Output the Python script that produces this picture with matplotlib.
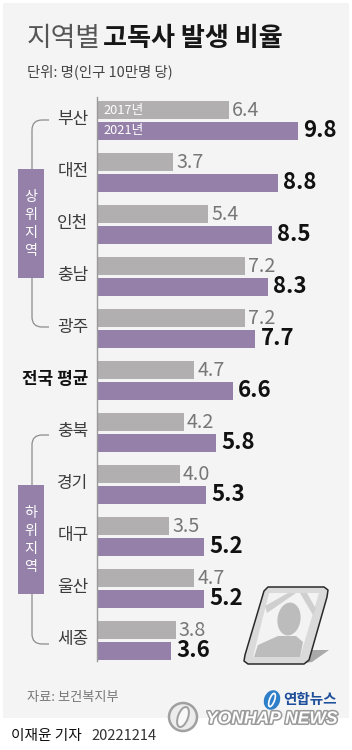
"""
Regional lonely-death rates, 2017 vs 2021 (paired horizontal bars)
"""

import matplotlib
matplotlib.use("Agg")
import matplotlib.pyplot as plt
import matplotlib.patheffects as pe
from matplotlib.patches import Circle, Ellipse, PathPatch, Polygon, Rectangle
from matplotlib.path import Path

plt.rcParams["font.family"] = ["Noto Sans CJK KR", "DejaVu Sans"]

regions = ["부산", "대전", "인천", "충남", "광주", "전국 평균", "충북", "경기", "대구", "울산", "세종"]
rate_2017 = [6.4, 3.7, 5.4, 7.2, 7.2, 4.7, 4.2, 4.0, 3.5, 4.7, 3.8]
rate_2021 = [9.8, 8.8, 8.5, 8.3, 7.7, 6.6, 5.8, 5.3, 5.2, 5.2, 3.6]
series_names = ["2017년", "2021년"]

GRAY = "#b1afaf"
PURPLE = "#9480a8"
BG = "#f4f4f5"
TEXT = "#3c3c3c"

W, H = 352, 750
fig = plt.figure(figsize=(W / 100, H / 100), dpi=100, facecolor="white")

# pixel-space layer for the page furniture
bg = fig.add_axes([0, 0, 1, 1])
bg.set_xlim(0, W)
bg.set_ylim(H, 0)
bg.axis("off")
bg.add_patch(Rectangle((3, 3), 346, 715, fc=BG, ec="none"))

bg.text(27, 39, "지역별", fontsize=19.3, color="#555555", va="center", ha="left", fontweight="light")
bg.text(103, 39, "고독사 발생 비율", fontsize=18.8, color="#161616", va="center", ha="left", fontweight="bold")
bg.text(27, 72, "단위: 명(인구 10만명 당)", fontsize=10.4, color="#444444", va="center", ha="left")

# bars: one row every 52 px, first row centred on y=120.5
ax = fig.add_axes([97 / W, 1 - 668.6 / H, 240 / W, 572 / H])
ax.patch.set_alpha(0)
ax.set_xlim(0, 240 / 20.45)
ax.set_ylim(len(regions) - 1 + 0.54, -0.46)
for s in ["top", "right", "bottom"]:
    ax.spines[s].set_visible(False)
ax.spines["left"].set_color("#9a9a9a")
ax.spines["left"].set_linewidth(1.0)
ax.spines["left"].set_bounds(10.4, -0.46)
ax.set_xticks([])
ax.set_yticks([])

h = 0.35
off = 0.2
for i, name in enumerate(regions):
    ax.barh(i - off, rate_2017[i], height=h, color=GRAY, left=0.04)
    ax.barh(i + off, rate_2021[i], height=h, color=PURPLE, left=0.04)
    ax.text(rate_2017[i] + 0.2, i - off, f"{rate_2017[i]:.1f}", fontsize=14.2, color="#777777",
            va="center", ha="left", fontweight="medium")
    ax.text(rate_2021[i] + 0.3, i + off, f"{rate_2021[i]:.1f}", fontsize=16, color="#111111",
            va="center", ha="left", fontweight="bold")
    bold = name == "전국 평균"
    ax.text(-0.42, i - 0.03, name, fontsize=12.2, color="#111111" if bold else TEXT,
            va="center", ha="right", fontweight="bold" if bold else "normal")

ax.text(0.3, -off, series_names[0], fontsize=9.2, color="white", va="center", ha="left", fontweight="medium")
ax.text(0.3, off, series_names[1], fontsize=9.2, color="white", va="center", ha="left", fontweight="medium")


def bracket(top, bottom, box_top, box_bottom, label):
    # rounded connector line with a purple tag sitting on it
    verts = [(49, top), (42, top), (32, top), (32, top + 10), (32, bottom - 10), (32, bottom), (42, bottom), (49, bottom)]
    codes = [Path.MOVETO, Path.LINETO, Path.CURVE3, Path.CURVE3, Path.LINETO, Path.CURVE3, Path.CURVE3, Path.LINETO]
    bg.add_patch(PathPatch(Path(verts, codes), fc="none", ec="#8c8c8c", lw=0.9))
    bg.add_patch(Rectangle((18, box_top), 26, box_bottom - box_top, fc=PURPLE, ec="none"))
    mid = (box_top + box_bottom) / 2
    for k, ch in enumerate(label):
        bg.text(31, mid + (k - 1.5) * 18, ch, fontsize=10.2, color="white", ha="center", va="center")


bracket(120, 327, 169, 278, "상위지역")
bracket(435, 644, 485, 594, "하위지역")

# memorial photo frame
bg.add_patch(Polygon([(305, 650), (329, 650), (312, 662), (298, 664)], fc="#a9a9a9", ec="none"))
frame = [(268, 587), (324, 587), (328, 590), (327, 597), (309, 660), (304, 664),
         (248, 664), (244, 661), (245, 655), (264, 591)]
bg.add_patch(Polygon(frame, closed=True, fc="#dadada", ec="#2a2a2a", lw=1.1, joinstyle="round"))
inner = [(269, 593), (319, 593), (300, 657), (253, 657)]
bg.add_patch(Polygon(inner, closed=True, fc="#f3f3f3", ec="none"))
bg.add_patch(Polygon([(288, 593), (296, 593), (267, 613), (265, 606)], fc="#cfcfcf", ec="none"))
bg.add_patch(Polygon([(300, 593), (307, 593), (316, 609), (313, 615)], fc="#cfcfcf", ec="none"))
bg.add_patch(Ellipse((289, 619), 23, 33, angle=8, fc="#bcbcbc", ec="none"))
bg.add_patch(Polygon([(254, 657), (258, 645), (278, 636), (296, 636), (303, 642), (300, 657)],
                     fc="#bcbcbc", ec="none"))

bg.text(27, 698, "자료: 보건복지부", fontsize=9.5, color="#777777", va="center", ha="left")

# agency logos
bg.add_patch(Ellipse((272, 700), 16, 20, angle=20, fc="#2f7fc8", ec="none"))
bg.add_patch(Ellipse((272, 700), 5, 14, angle=20, fc="none", ec="white", lw=1.2))
bg.text(283, 699, "연합뉴스", fontsize=10.5, color="#1f4f9a", ha="left", va="center", fontweight="bold")

outline = [pe.withStroke(linewidth=2.2, foreground="#9a9a9a")]
bg.add_patch(Circle((183, 717), 14, fc="#ececec", ec="#a0a0a0", lw=1.8))
bg.add_patch(Ellipse((183, 717), 10, 21, angle=20, fc="#f9f9f9", ec="#a0a0a0", lw=1.4))
bg.text(206, 719, "YONHAP NEWS", fontsize=12.6, color="white", ha="left", va="center",
        family=["Liberation Sans", "DejaVu Sans"], style="italic", fontweight="bold", path_effects=outline)

bg.text(11, 736, "이재윤 기자", fontsize=10.6, color="#111111", ha="left", va="center", fontweight="medium")
bg.text(91, 736, "20221214", fontsize=10.6, color="#333333", ha="left", va="center")

fig.savefig("out.png", dpi=100, facecolor="white")
